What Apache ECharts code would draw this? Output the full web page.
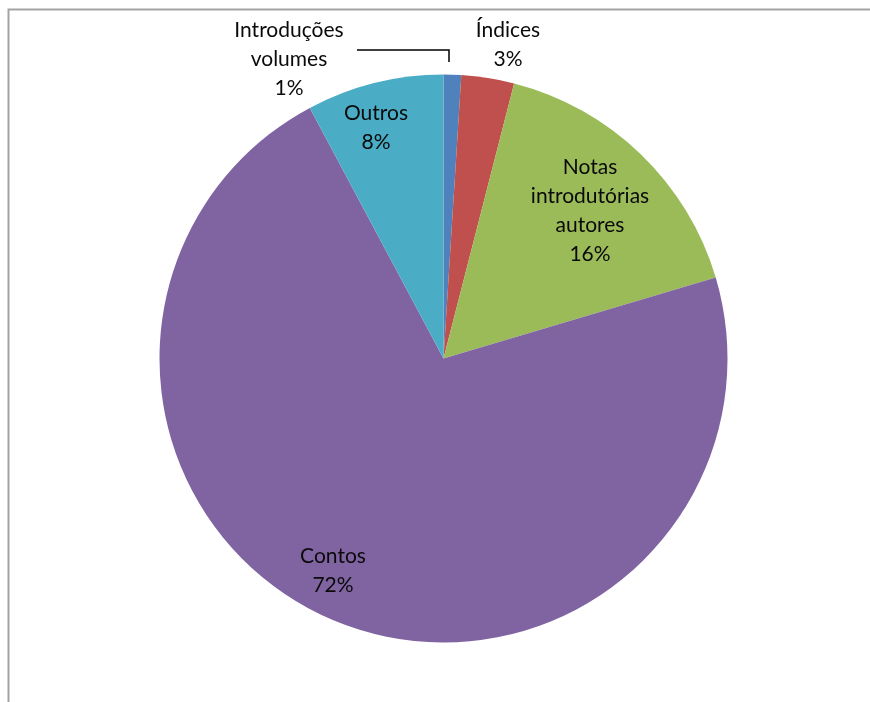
<!DOCTYPE html>
<html>
<head>
<meta charset="utf-8">
<script src="https://cdn.jsdelivr.net/npm/echarts@6/dist/echarts.min.js"></script>
<style>
  html, body { margin: 0; padding: 0; background: #fff; }
  #chart { width: 870px; height: 702px; }
</style>
</head>
<body>
<div id="chart"></div>
<script>
// Composition of the volumes, clockwise from twelve o'clock
const categories = ['Introduções\nvolumes', 'Índices', 'Notas\nintrodutórias\nautores', 'Contos', 'Outros'];
const shares = [1.0, 3.0, 16.4, 71.8, 7.8];
const colors = ['#4F81BD', '#C0504D', '#9BBB59', '#8064A2', '#4BACC6'];

// Label anchor points (centre of each text block) and the one leader line
const labelAnchors = [
  [289, 59],
  [508, 45],
  [590, 211],
  [333, 571],
  [376, 128]
];
const leaderPath = [[449, 62], [449, 50], [357, 50]];

const chart = echarts.init(document.getElementById('chart'), null, { renderer: 'canvas' });

const pieData = categories.map((name, i) => ({
  name: name,
  value: shares[i],
  itemStyle: { color: colors[i] },
  labelLine: { show: i === 0 }
}));

chart.setOption({
  animation: false,
  backgroundColor: '#ffffff',
  graphic: [{
    type: 'polyline',
    shape: { points: [[8.5, 720], [8.5, 9.5], [890, 9.5]] },
    style: { stroke: '#a3a3a3', lineWidth: 2, fill: null },
    silent: true
  }],
  series: [{
    type: 'pie',
    center: [443.5, 358.5],
    radius: 284,
    startAngle: 90,
    clockwise: true,
    percentPrecision: 0,
    data: pieData,
    itemStyle: { borderWidth: 0 },
    label: {
      show: true,
      position: 'outside',
      formatter: '{b}\n{d}%',
      fontFamily: 'Lato',
      fontSize: 21,
      lineHeight: 29,
      color: '#0a0a0a',
      align: 'center',
      verticalAlign: 'middle'
    },
    labelLine: {
      show: true,
      length: 10,
      length2: 10,
      smooth: false,
      lineStyle: { color: '#000000', width: 1.5 }
    },
    labelLayout: function (params) {
      const i = params.dataIndex;
      const out = {
        x: labelAnchors[i][0],
        y: labelAnchors[i][1],
        align: 'center',
        verticalAlign: 'middle',
        hideOverlap: false,
        moveOverlap: null
      };
      if (i === 0) {
        out.labelLinePoints = leaderPath;
      }
      return out;
    },
    emphasis: { disabled: true }
  }]
});
</script>
</body>
</html>
